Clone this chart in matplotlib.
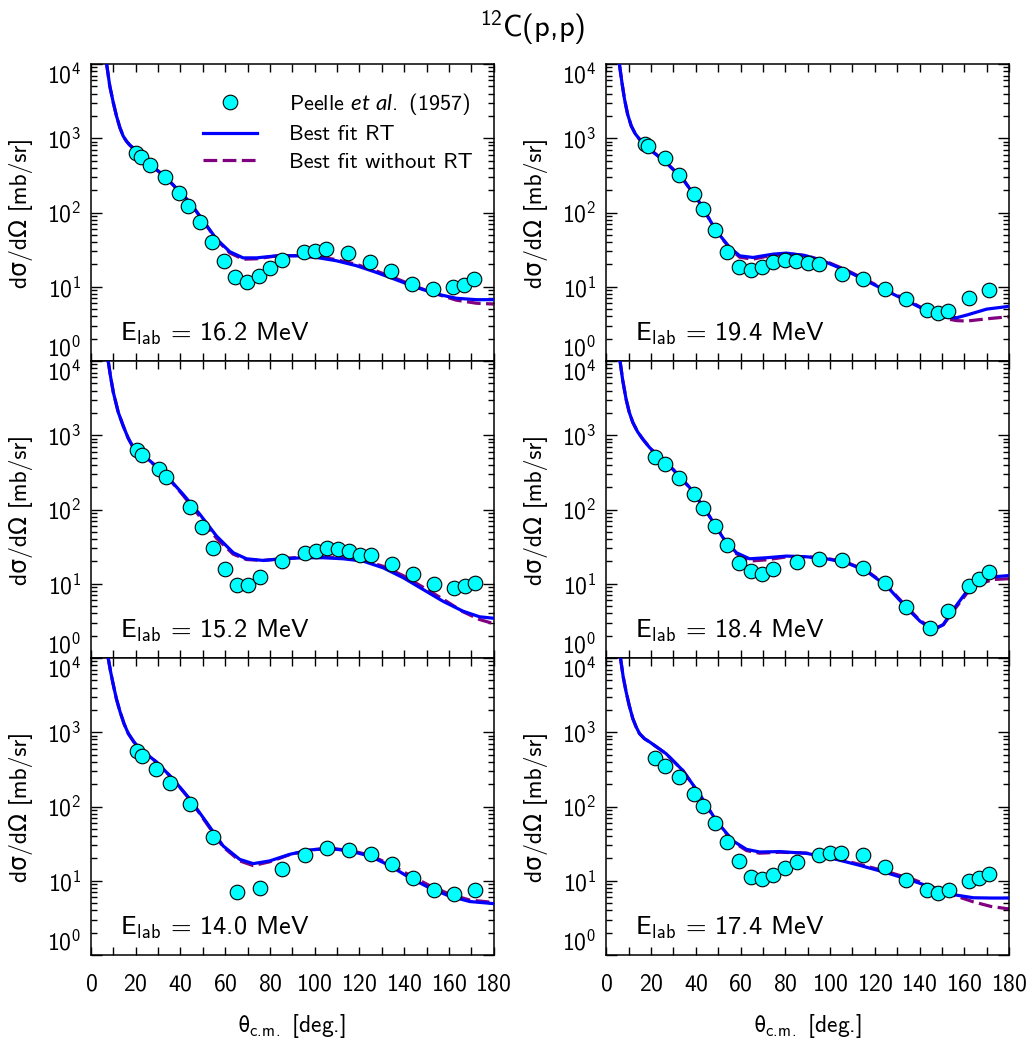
import matplotlib
matplotlib.use("Agg")
import matplotlib.pyplot as plt
from matplotlib.ticker import FixedLocator, MultipleLocator, LogLocator, NullFormatter

plt.rcParams['font.family'] = ['cmss10', 'DejaVu Sans']
plt.rcParams['mathtext.fontset'] = 'custom'
plt.rcParams['mathtext.rm'] = 'cmss10'
plt.rcParams['mathtext.sf'] = 'cmss10'
plt.rcParams['mathtext.it'] = 'Lato:italic'
plt.rcParams['mathtext.fallback'] = 'stixsans'
plt.rcParams['axes.formatter.use_mathtext'] = True
plt.rcParams['axes.unicode_minus'] = False

# ---------------- data ----------------
energies = ["16.2", "19.4", "15.2", "18.4", "14.0", "17.4"]

# E = 16.2 MeV
exp_x_162 = [20.1, 22.2, 26.4, 33.0, 39.4, 43.6, 48.8, 54.2, 59.4, 64.6, 69.8, 75.0, 80.2, 85.3,
             95.3, 100.2, 105.1, 115.1, 124.6, 134.1, 143.4, 152.9, 162.0, 166.6, 171.4]
exp_y_162 = [624, 552, 438, 297, 182, 123, 74.3, 40.3, 22.4, 13.5, 11.6, 13.8, 18.0, 23.1,
             29.6, 30.5, 32.1, 28.4, 21.7, 16.4, 10.9, 9.2, 10.0, 10.6, 12.7]
fit_x_162 = [7.0, 8.4, 10.0, 11.4, 12.9, 14.4, 15.9, 17.4, 20.4, 26.0, 33.0, 44.2, 50.2, 56.1,
             62.1, 68.0, 74.0, 82.9, 91.9, 100.8, 109.7, 118.7, 127.6, 136.5, 145.5, 154.4,
             163.3, 172.3, 180]
rt_y_162 = [10000, 5070, 3000, 2000, 1400, 1070, 910, 807, 676, 450, 308, 137, 77, 44,
            29.6, 24.5, 24.5, 26.1, 26.1, 24.8, 22.4, 19.2, 15.6, 12.4, 9.8, 8.0,
            7.0, 6.7, 6.7]
nort_y_162 = [10000, 5070, 3000, 2000, 1400, 1070, 910, 807, 676, 450, 308, 137, 77, 43,
              28.5, 23.5, 23.8, 26.0, 26.3, 25.5, 23.2, 20.0, 16.3, 12.9, 10.0, 8.0,
              6.6, 6.0, 5.85]

# E = 19.4 MeV
exp_x_194 = [17.3, 18.7, 26.3, 32.6, 39.1, 43.4, 48.5, 53.9, 59.3, 64.5, 69.6, 74.6, 79.9, 84.9,
             90.0, 95.1, 105.1, 114.8, 124.5, 134.0, 143.4, 148.1, 152.9, 162.1, 171.2]
exp_y_194 = [834, 776, 535, 321, 177, 112, 59, 29.6, 18.2, 16.8, 18.2, 21.3, 22.9, 22.4,
             20.7, 20.2, 15.0, 12.6, 9.3, 6.8, 4.85, 4.47, 4.75, 7.1, 9.1]
fit_x_194 = [5.8, 7.0, 8.1, 9.5, 11.1, 12.9, 14.8, 17.0, 19.3, 26.7, 34.2, 41.6, 49.1, 55.1,
             59.6, 65.5, 74.5, 80.5, 89.4, 98.4, 107.3, 116.3, 125.2, 134.2, 143.2, 152.1,
             156.6, 161.1, 170.0, 180]
rt_y_194 = [10000, 5500, 3360, 2100, 1470, 1150, 972, 830, 713, 472, 282, 137, 56.7, 33.9,
            26.1, 24.8, 27.5, 28.4, 26.1, 21.3, 16.4, 12.0, 8.8, 6.5, 4.75, 3.87,
            3.83, 4.16, 5.0, 5.45]
nort_y_194 = [10000, 5500, 3360, 2100, 1470, 1150, 972, 830, 713, 472, 282, 137, 56.7, 33.0,
              25.0, 23.5, 26.8, 28.0, 26.3, 21.8, 16.8, 12.3, 9.0, 6.7, 4.8, 3.7,
              3.5, 3.45, 3.7, 3.95]

# E = 15.2 MeV
exp_x_152 = [20.4, 22.6, 30.2, 33.6, 44.1, 49.6, 54.6, 59.8, 65.2, 70.4, 75.6, 85.6, 95.7,
             100.6, 105.5, 110.5, 115.4, 120.3, 125.2, 134.6, 143.8, 153.2, 162.3, 167.0, 171.8]
exp_y_152 = [629, 544, 356, 278, 109, 58.7, 30.6, 15.6, 9.7, 9.5, 12.3, 20.2, 26.2,
             27.3, 30.2, 29.3, 27.5, 24.3, 24.1, 18.4, 13.4, 10.0, 8.9, 9.4, 10.3]
fit_x_152 = [7.7, 8.7, 10.0, 12.2, 14.4, 16.6, 18.9, 26.4, 33.8, 41.2, 48.7, 56.1, 63.6, 69.5,
             77.0, 85.9, 94.8, 103.8, 112.7, 121.6, 130.6, 139.5, 148.4, 157.4, 166.3, 173.7, 180]
rt_y_152 = [10000, 6300, 3780, 2040, 1340, 920, 684, 452, 283, 160, 86, 44, 26.2, 21.7,
            20.6, 21.7, 22.4, 22.4, 21.7, 20.2, 16.4, 12.1, 8.4, 5.8, 4.27, 3.59, 3.43]
nort_y_152 = [10000, 6300, 3780, 2040, 1340, 920, 684, 452, 283, 155, 80, 41, 25.0, 21.2,
              20.6, 21.9, 22.8, 23.0, 22.4, 20.8, 17.2, 12.9, 9.0, 6.2, 4.2, 3.3, 2.9]

# E = 18.4 MeV
exp_x_184 = [21.9, 26.0, 32.6, 39.1, 43.4, 48.5, 53.9, 59.3, 64.5, 69.6, 74.6, 85.1, 95.1,
             105.1, 114.8, 124.5, 134.0, 144.5, 152.9, 162.0, 166.6, 171.2]
exp_y_184 = [517, 404, 266, 162, 105, 59.8, 32.9, 19.2, 14.7, 13.5, 15.6, 19.8, 21.7,
             20.8, 16.1, 10.2, 4.79, 2.57, 4.23, 9.4, 11.5, 14.2]
fit_x_184 = [6.1, 7.3, 8.8, 10.2, 11.8, 13.9, 16.3, 19.2, 22.2, 29.7, 37.2, 44.6, 52.1, 58.1,
             64.0, 71.5, 80.5, 89.4, 98.4, 107.3, 116.3, 125.3, 134.2, 140.2, 146.1, 150.6,
             155.1, 161.1, 167.0, 173.0, 180]
rt_y_184 = [10000, 5500, 3070, 2050, 1490, 1120, 885, 690, 556, 349, 198, 95.5, 41.8, 26.2,
            21.7, 22.4, 23.6, 23.1, 21.7, 19.2, 14.8, 9.3, 4.75, 3.13, 2.37, 2.82,
            4.5, 7.9, 10.8, 12.4, 12.9]
nort_y_184 = [10000, 5500, 3070, 2050, 1490, 1120, 885, 690, 556, 349, 198, 95.5, 41.8, 25.5,
              20.2, 21.0, 23.0, 23.1, 22.0, 19.5, 15.0, 9.5, 4.9, 3.2, 2.45, 2.8,
              4.3, 7.4, 10.0, 11.4, 11.7]

# E = 14.0 MeV
exp_x_140 = [20.4, 22.6, 29.2, 35.3, 44.1, 54.6, 65.2, 75.6, 85.6, 95.7, 105.5, 115.4, 125.2,
             134.6, 143.8, 153.2, 162.4, 171.6]
exp_y_140 = [560, 479, 319, 210, 107, 38.3, 7.0, 7.9, 14.5, 22.2, 27.4, 26.3, 22.9,
             16.8, 10.8, 7.55, 6.6, 7.6]
fit_x_140 = [7.7, 8.8, 10.0, 11.4, 13.0, 14.8, 16.7, 19.2, 21.9, 29.3, 36.6, 44.2, 51.7, 59.1,
             66.5, 72.5, 79.9, 88.9, 97.8, 106.7, 115.7, 124.6, 133.4, 142.4, 151.4, 160.3,
             169.3, 180]
rt_y_140 = [10000, 6500, 4330, 2800, 1890, 1300, 960, 740, 601, 397, 236, 126, 61, 29.4,
            19.4, 17.0, 18.5, 22.7, 26.0, 27.2, 25.2, 21.5, 16.1, 11.0, 8.0, 6.2,
            5.25, 4.92]
nort_y_140 = [10000, 6500, 4330, 2800, 1890, 1300, 960, 740, 601, 397, 236, 124, 59, 28.5,
              18.5, 16.0, 18.0, 22.5, 26.0, 27.4, 25.6, 22.2, 16.8, 11.9, 8.6, 6.6,
              5.5, 5.1]

# E = 17.4 MeV
exp_x_174 = [21.9, 26.1, 32.6, 39.1, 43.4, 48.5, 53.7, 59.3, 64.5, 69.6, 74.6, 79.9, 85.1,
             94.9, 100.0, 104.9, 114.8, 124.5, 134.0, 143.2, 148.1, 153.0, 162.0, 166.6, 171.2]
exp_y_174 = [454, 354, 253, 149, 101, 59.7, 33.4, 18.3, 11.1, 10.4, 11.9, 14.7, 17.7,
             22.0, 23.7, 23.7, 22.2, 15.5, 10.2, 7.6, 6.9, 7.6, 10.0, 11.0, 12.3]
fit_x_174 = [6.3, 7.5, 8.8, 10.2, 11.8, 13.3, 14.8, 17.0, 19.3, 26.7, 34.2, 41.6, 49.1, 56.6,
             62.6, 68.5, 77.5, 89.4, 101.3, 113.3, 125.3, 137.2, 146.1, 155.1, 164.0, 172.0, 180]
rt_y_174 = [10000, 5600, 3520, 2300, 1530, 1180, 960, 820, 741, 514, 305, 148, 64.3, 34.4,
            26.5, 24.4, 24.7, 23.4, 19.9, 16.1, 12.8, 9.9, 8.0, 6.5, 5.9, 5.85, 5.85]
nort_y_174 = [10000, 5600, 3520, 2300, 1530, 1180, 960, 820, 741, 514, 305, 146, 63, 33.5,
              25.5, 23.5, 24.2, 23.6, 20.3, 16.6, 13.3, 10.4, 8.2, 6.4, 5.2, 4.5, 4.17]

panels = [
    (exp_x_162, exp_y_162, fit_x_162, rt_y_162, nort_y_162),
    (exp_x_194, exp_y_194, fit_x_194, rt_y_194, nort_y_194),
    (exp_x_152, exp_y_152, fit_x_152, rt_y_152, nort_y_152),
    (exp_x_184, exp_y_184, fit_x_184, rt_y_184, nort_y_184),
    (exp_x_140, exp_y_140, fit_x_140, rt_y_140, nort_y_140),
    (exp_x_174, exp_y_174, fit_x_174, rt_y_174, nort_y_174),
]

y_ticks = [1, 10, 100, 1000, 10000]
x_ticks = [0, 20, 40, 60, 80, 100, 120, 140, 160, 180]

# ---------------- figure ----------------
fig, axes = plt.subplots(3, 2, figsize=(10.36, 10.46), dpi=100, sharex=True)
fig.subplots_adjust(left=0.0878, right=0.974, top=0.9388, bottom=0.087,
                    hspace=0.0, wspace=0.28)

for i, ax in enumerate(axes.flat):
    ex, ey, fx, rty, nty = panels[i]
    l2, = ax.plot(fx, nty, color='#800080', lw=2.3, dashes=(4.3, 1.7), zorder=2,
                  label='Best fit without RT')
    l1, = ax.plot(fx, rty, color='#0000FF', lw=2.3, zorder=3, label='Best fit RT')
    m, = ax.plot(ex, ey, 'o', color='#00FFFF', mec='black', mew=0.8, ms=10.5,
                 zorder=4, linestyle='none', label=r'Peelle $\mathit{et\ al.}$ (1957)')
    ax.set_yscale('log')
    ax.set_ylim(1, 1e4)
    ax.set_xlim(0, 180)
    ax.yaxis.set_major_locator(FixedLocator(y_ticks))
    ax.yaxis.set_minor_locator(LogLocator(base=10, subs=[2, 3, 4, 5, 6, 7, 8, 9], numticks=20))
    ax.yaxis.set_minor_formatter(NullFormatter())
    ax.xaxis.set_major_locator(FixedLocator(x_ticks))
    ax.xaxis.set_minor_locator(MultipleLocator(10))
    ax.tick_params(which='both', direction='in', top=True, right=True, width=1.0)
    ax.tick_params(axis='y', which='major', length=8, pad=7)
    ax.tick_params(axis='y', which='minor', length=4)
    ax.tick_params(axis='x', which='both', length=6)
    ax.tick_params(axis='x', which='major', pad=13)
    ax.tick_params(axis='both', which='major', labelsize=17)
    for sp in ax.spines.values():
        sp.set_linewidth(1.1)
    ax.set_ylabel('dσ/dΩ [mb/sr]', fontsize=17)
    ax.yaxis.set_label_coords(-0.145, 0.5)
    ax.text(0.072, 0.068, r'$\mathrm{E_{lab}}$ = ' + energies[i] + ' MeV',
            transform=ax.transAxes, fontsize=19, ha='left', va='baseline')
    ticks = ax.yaxis.get_major_ticks()
    ticks[0].label1.set_va('bottom')
    ticks[-1].label1.set_va('top')
    if i == 0:
        ax.legend(handles=[m, l1, l2], loc='upper left', bbox_to_anchor=(0.277, 0.91),
                  frameon=False, fontsize=16, numpoints=1, handlelength=2.45,
                  handletextpad=1.45, labelspacing=0.36, borderpad=0, borderaxespad=0)

for ax in axes[2]:
    ax.set_xlabel(r'$\mathrm{\theta_{c.\!m.}}$ [deg.]', fontsize=17, labelpad=12)

fig.text(0.514, 1 - 37 / 1046, r'$^{12}$C(p,p)', ha='center', va='baseline', fontsize=22)

fig.savefig('out.png', dpi=100)
